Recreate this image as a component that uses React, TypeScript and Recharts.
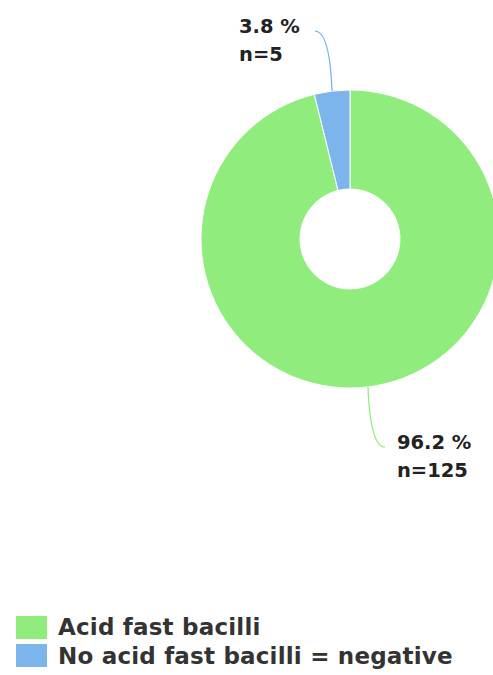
import React from "react";
import { PieChart, Pie, Cell, Legend } from "recharts";

const categories = ["Acid fast bacilli", "No acid fast bacilli = negative"];
const counts = [125, 5];
const colors = ["#90ED7D", "#7CB5EC"];

const data = categories.map((name, i) => ({ name, value: counts[i], fill: colors[i] }));
const total = counts.reduce((a, b) => a + b, 0);

const FONT = "'DejaVu Sans', Verdana, sans-serif";

const renderLabel = (props: any) => {
  const { cx, cy, midAngle, outerRadius, value, index } = props;
  const rad = (midAngle * Math.PI) / 180;
  const cos = Math.cos(rad);
  const sin = Math.sin(rad);
  const x0 = cx + outerRadius * cos;
  const y0 = cy - outerRadius * sin;
  const sx = cos < 0 ? -1 : 1;
  const sy = sin > 0 ? -1 : 1;
  const x1 = x0 + sx * 17;
  const y1 = y0 + sy * 60;
  const c1x = x0 + (x1 - x0) * 0.1;
  const c1y = y0 + (y1 - y0) * 0.7;
  const c2x = x0 + (x1 - x0) * 0.45;
  const c2y = y1;
  const path = `M${x0},${y0} C${c1x},${c1y} ${c2x},${c2y} ${x1},${y1}`;
  const tx = sx < 0 ? x1 - 76 : x1 + 12;
  const pct = ((value / total) * 100).toFixed(1);
  return (
    <g key={`lbl-${index}`}>
      <path d={path} stroke={colors[index]} strokeWidth={1.3} fill="none" />
      <text
        x={tx}
        y={y1 + 2}
        fontFamily={FONT}
        fontWeight="bold"
        fontSize={19.5}
        fill="#222"
        textAnchor="start"
      >
        <tspan x={tx} y={y1 + 2}>{`${pct} %`}</tspan>
        <tspan x={tx} y={y1 + 30}>{`n=${value}`}</tspan>
      </text>
    </g>
  );
};

const renderLegend = () => (
  <div style={{ fontFamily: FONT, fontWeight: "bold", fontSize: 23, letterSpacing: 0.2, color: "#333" }}>
    {data.map((d) => (
      <div key={d.name} style={{ display: "flex", alignItems: "center", height: 28.5 }}>
        <span
          style={{
            display: "inline-block",
            width: 31,
            height: 23,
            background: d.fill,
            marginRight: 11,
          }}
        />
        <span style={{ lineHeight: "28px" }}>{d.name}</span>
      </div>
    ))}
  </div>
);

export default function App() {
  return (
    <div style={{ position: "absolute", left: 0, top: 0, width: 493, height: 675, background: "#fff" }}>
      <PieChart width={493} height={675} margin={{ top: 0, right: 0, bottom: 0, left: 0 }}>
        <Pie
          data={data}
          dataKey="value"
          nameKey="name"
          cx={350}
          cy={239}
          outerRadius={149}
          innerRadius={50}
          startAngle={90}
          endAngle={-270}
          stroke="#ffffff"
          strokeWidth={1}
          label={renderLabel}
          labelLine={false}
          isAnimationActive={false}
        >
          {data.map((d) => (
            <Cell key={d.name} fill={d.fill} />
          ))}
        </Pie>
        <Legend
          content={renderLegend}
          wrapperStyle={{ position: "absolute", left: 16, top: 613, width: 480 }}
        />
      </PieChart>
    </div>
  );
}
